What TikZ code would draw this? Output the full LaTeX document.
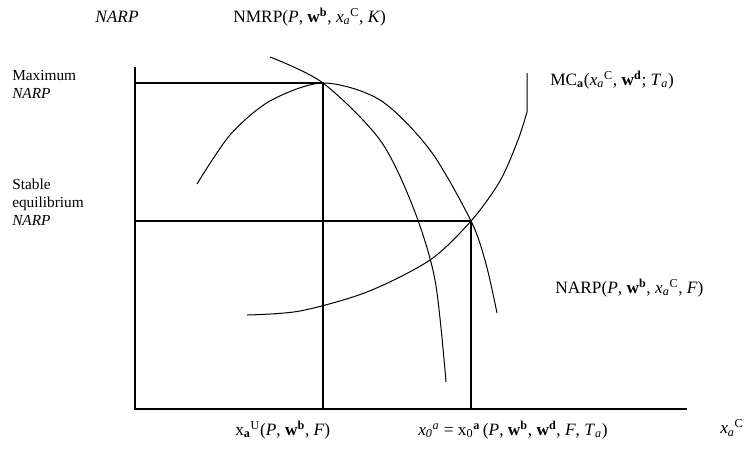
\documentclass[tikz,border=0pt]{standalone}
\usepackage{fontspec}
\setmainfont{Liberation Serif}
\usepackage{tikz}
\usetikzlibrary{positioning}

\newcommand{\wb}{\textbf{w}\textsuperscript{\textbf{b}}}
\newcommand{\wdd}{\textbf{w}\textsuperscript{\textbf{d}}}
\newcommand{\xaC}{\textit{x}\textsubscript{\textit{a}}\textsuperscript{C}}
\newcommand{\Ta}{\textit{T}\textsubscript{\textit{a}}}

\begin{document}
\begin{tikzpicture}[
          x=0.75pt,y=-0.75pt,
          every node/.style={font=\fontsize{13}{15}\selectfont},
          axis/.style={line width=1.2pt},
          guide/.style={line width=0.9pt},
          curve/.style={line width=0.75pt},
          lbl/.style={anchor=west,inner sep=0pt},
          side/.style={anchor=west,align=left,inner sep=0pt,
                       font=\fontsize{11.5}{13.5}\selectfont},
      ]
        \useasboundingbox (0,0) rectangle (752,450);

        \coordinate (O) at (135,409);
        \coordinate (ytop) at (135,67);
        \coordinate (xend) at (687,409);
        \coordinate (maxpt) at (323,83);
        \coordinate (eqpt) at (471,221);

        \draw[axis] (ytop) -- (O) -- (xend);
        \draw[guide] (O |- maxpt) -- (maxpt) -- (maxpt |- O);
        \draw[guide] (O |- eqpt) -- (eqpt) -- (eqpt |- O);

        \draw[curve] plot[smooth] coordinates {(197,184) (230,135) (270,101)
          (maxpt) (380,100) (430,150) (eqpt) (486,264) (497,313)};
        \draw[curve] plot[smooth] coordinates {(270,57) (maxpt) (380,140)
          (413,207) (435,280) (446,382)};
        \draw[curve] plot[smooth] coordinates {(247,315) (300,311) (367,292)
          (430,260) (eqpt) (500,181) (518,140) (527,112)} -- (527,73);

        \node[lbl] (ylab) at (95,17) {\textit{NARP}};
        \node[lbl] (nmrp) at (233,17) {NMRP(\textit{P}, \wb, \xaC, \textit{K})};
        \node[side] (maxlab) at (12,84) {Maximum\\\textit{NARP}};
        \node[side] (eqlab) at (12,202) {Stable\\equilibrium\\\textit{NARP}};
        \node[lbl] (mclab) at (550,80) {MC\textsubscript{\textbf{a}}(\xaC, \wdd; \Ta)};
        \node[lbl] (narplab) at (555,288) {NARP(\textit{P}, \wb, \xaC, \textit{F})};
        \node[lbl] (xulab) at (235,430) {x\textsubscript{\textbf{a}}\textsuperscript{U}(\textit{P}, \wb, \textit{F})};
        \node[lbl] (x0lab) at (418,430) {\textit{x}\textsubscript{\textit{0}}\textsuperscript{\textit{a}} = x\textsubscript{0}\textsuperscript{\textbf{a}}\,(\textit{P}, \wb, \wdd, \textit{F}, \Ta)};
        \node[lbl] (xlab) at (720,428) {\xaC};
      \end{tikzpicture}
\end{document}
